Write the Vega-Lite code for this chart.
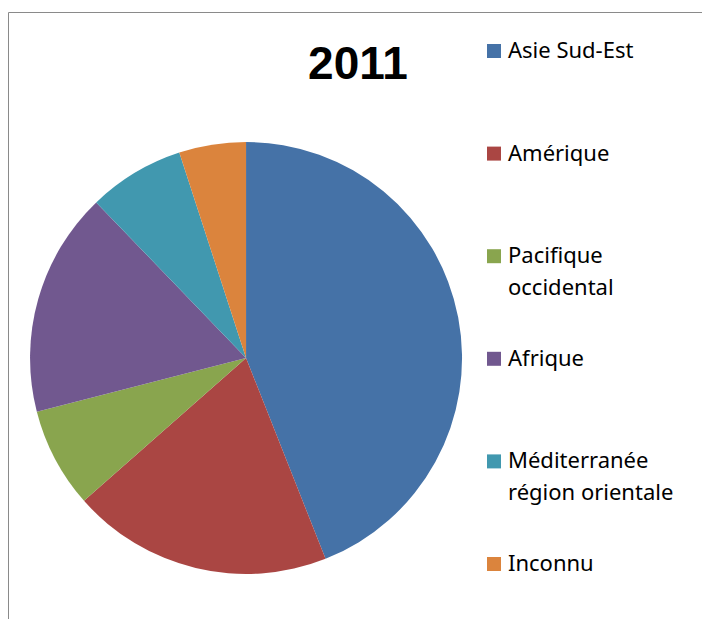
{
  "$schema": "https://vega.github.io/schema/vega-lite/v6.json",
  "autosize": {"type": "none"},
  "padding": {"left": 8, "top": 12, "right": 0, "bottom": 0},
  "width": 694,
  "height": 607,
  "background": "white",
  "view": {"stroke": "#8a8a8a", "strokeWidth": 1},
  "config": {"view": {"stroke": "#8a8a8a", "strokeWidth": 1}},
  "title": {
    "text": "2011",
    "font": "Liberation Sans",
    "fontSize": 46,
    "fontWeight": "bold",
    "color": "#000000",
    "anchor": "middle",
    "baseline": "alphabetic",
    "offset": 0,
    "dx": 3,
    "dy": 113
  },
  "data": {
    "values": [
      {"region": "Asie Sud-Est", "pct": 44.0, "ord": 1},
      {"region": "Amérique", "pct": 19.5, "ord": 2},
      {"region": "Pacifique occidental", "pct": 7.5, "ord": 3},
      {"region": "Afrique", "pct": 16.8, "ord": 4},
      {"region": "Méditerranée région orientale", "pct": 7.2, "ord": 5},
      {"region": "Inconnu", "pct": 5.0, "ord": 6}
    ]
  },
  "mark": {
    "type": "arc",
    "outerRadius": 216,
    "x": {"expr": "width*0.343"},
    "y": {"expr": "height*0.570"}
  },
  "encoding": {
    "theta": {"field": "pct", "type": "quantitative", "stack": true},
    "order": {"field": "ord", "type": "quantitative"},
    "color": {
      "field": "region",
      "type": "nominal",
      "sort": null,
      "scale": {
        "domain": ["Asie Sud-Est", "Amérique", "Pacifique occidental", "Afrique", "Méditerranée région orientale", "Inconnu"],
        "range": ["#4572A7", "#AA4643", "#89A54E", "#71588F", "#4198AF", "#DB843D"]
      },
      "legend": {
        "title": null,
        "orient": "none",
        "legendX": 475,
        "legendY": 28,
        "padding": 0,
        "symbolType": "square",
        "symbolSize": 196,
        "symbolStrokeWidth": 0,
        "symbolOpacity": 1,
        "labelFont": "Noto Sans",
        "labelFontSize": 22,
        "labelColor": "#000000",
        "labelOffset": 3,
        "labelLimit": 300,
        "labelBaseline": "middle",
        "rowPadding": 48.6,
        "labelExpr": "datum.label == 'Pacifique occidental' ? ['Pacifique', 'occidental'] : datum.label == 'Méditerranée région orientale' ? ['Méditerranée', 'région orientale'] : [datum.label, '']",
        "encode": {"labels": {"update": {"lineHeight": {"value": 32}}}}
      }
    }
  }
}
